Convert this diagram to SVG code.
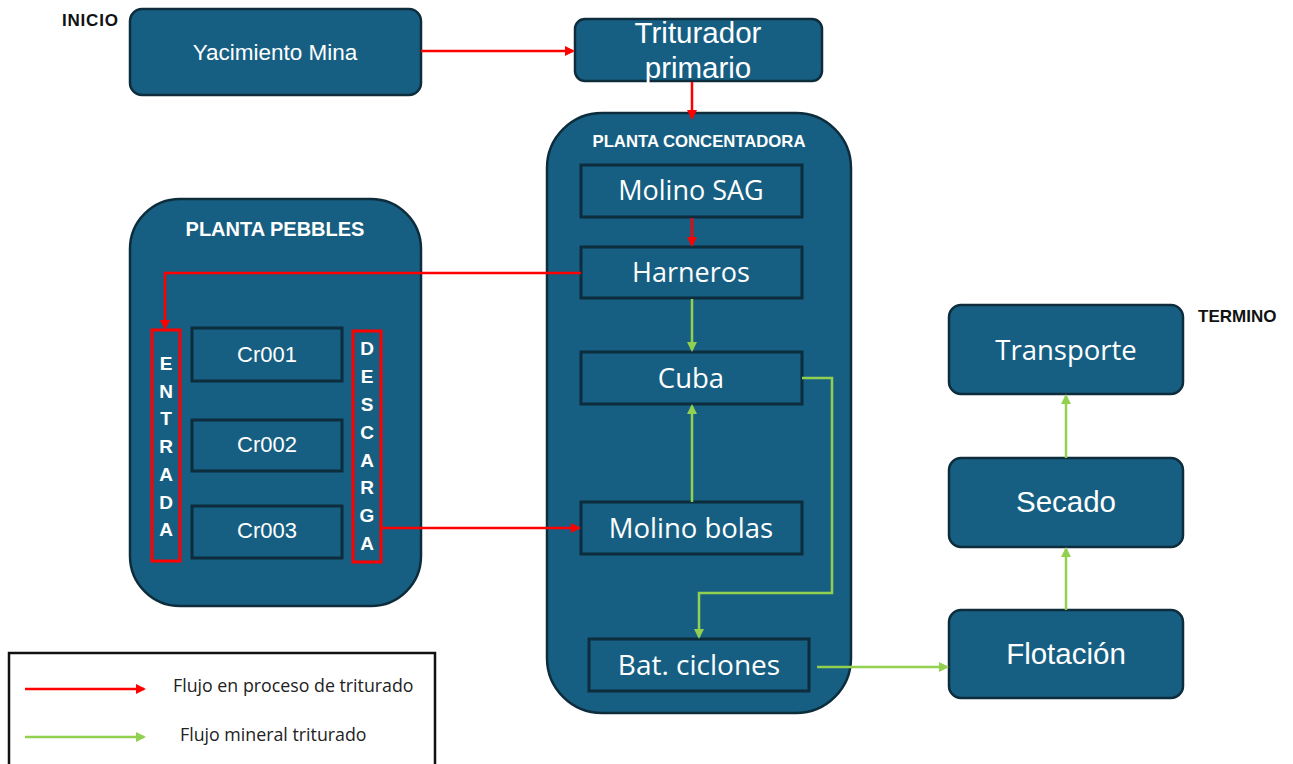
<svg xmlns="http://www.w3.org/2000/svg" width="1293" height="764" viewBox="0 0 1293 764">
  <defs>
    <marker id="ah-red" markerWidth="10" markerHeight="10" refX="8" refY="5" orient="auto" markerUnits="userSpaceOnUse">
      <path d="M0,0 L10,5 L0,10 Z" fill="#ff0000"/>
    </marker>
    <marker id="ah-green" markerWidth="10" markerHeight="10" refX="8" refY="5" orient="auto" markerUnits="userSpaceOnUse">
      <path d="M0,0 L10,5 L0,10 Z" fill="#92d050"/>
    </marker>
  </defs>
  <style>
    .box { fill: #175f82; stroke: #0d2c3c; stroke-width: 2.5; }
    .inner { fill: #175f82; stroke: #0d2c3c; stroke-width: 3; }
    .redframe { fill: none; stroke: #ff0000; stroke-width: 3; }
    .t-arial { font-family: "Liberation Sans", Arial, sans-serif; fill: #ffffff; text-anchor: middle; }
    .t-apt { font-family: "Open Sans", "Liberation Sans", sans-serif; fill: #ffffff; text-anchor: middle; }
    .t-head { font-family: "Liberation Sans", Arial, sans-serif; font-weight: bold; fill: #ffffff; text-anchor: middle; }
    .t-letter { font-family: "Liberation Sans", Arial, sans-serif; font-weight: bold; fill: #ffffff; text-anchor: middle; font-size: 19px; }
    .t-mark { font-family: "Liberation Sans", Arial, sans-serif; font-weight: bold; fill: #111111; font-size: 17px; }
    .t-legend { font-family: "Open Sans", "Liberation Sans", sans-serif; fill: #222222; font-size: 17.8px; }
    .red { fill: none; stroke: #ff0000; stroke-width: 2.5; }
    .green { fill: none; stroke: #92d050; stroke-width: 2.5; }
  </style>

  <rect width="1293" height="764" fill="#ffffff"/>

  <!-- start / end marks -->
  <text class="t-mark" x="62" y="26" letter-spacing="0.8">INICIO</text>
  <text class="t-mark" x="1198" y="322" font-size="18.5">TERMINO</text>

  <!-- container groups -->
  <g id="planta-pebbles">
    <rect class="box" x="130" y="199" width="291" height="407" rx="50"/>
    <text class="t-head" x="275" y="236" font-size="20">PLANTA PEBBLES</text>
  </g>
  <g id="planta-concentradora">
    <rect class="box" x="547" y="113" width="304" height="600" rx="55"/>
    <text class="t-head" x="699" y="147" font-size="16.7">PLANTA CONCENTADORA</text>
  </g>

  <!-- top row -->
  <g id="yacimiento-mina">
    <rect class="box" x="130" y="9" width="291" height="86" rx="12"/>
    <text class="t-arial" x="275" y="60" font-size="22.5">Yacimiento Mina</text>
  </g>
  <g id="triturador-primario">
    <rect class="box" x="575" y="19" width="247" height="62" rx="10"/>
    <text class="t-arial" x="698" y="43" font-size="29.5">Triturador</text>
    <text class="t-arial" x="698" y="78" font-size="29.5">primario</text>
  </g>

  <!-- concentrator stages -->
  <g id="molino-sag">
    <rect class="inner" x="581" y="165" width="221" height="52"/>
    <text class="t-apt" x="691" y="200" font-size="27">Molino SAG</text>
  </g>
  <g id="harneros">
    <rect class="inner" x="581" y="247" width="221" height="51"/>
    <text class="t-apt" x="691" y="282" font-size="27">Harneros</text>
  </g>
  <g id="cuba">
    <rect class="inner" x="581" y="352" width="221" height="52"/>
    <text class="t-apt" x="691" y="388" font-size="27.5">Cuba</text>
  </g>
  <g id="molino-bolas">
    <rect class="inner" x="581" y="502" width="221" height="52"/>
    <text class="t-apt" x="691" y="538" font-size="27.5">Molino bolas</text>
  </g>
  <g id="bat-ciclones">
    <rect class="inner" x="589" y="639" width="220" height="52"/>
    <text class="t-apt" x="699" y="675" font-size="28">Bat. ciclones</text>
  </g>

  <!-- pebbles crushers -->
  <g id="cr001">
    <rect class="inner" x="192" y="328" width="150" height="53"/>
    <text class="t-arial" x="267" y="362" font-size="22">Cr001</text>
  </g>
  <g id="cr002">
    <rect class="inner" x="192" y="420" width="150" height="51"/>
    <text class="t-arial" x="267" y="452" font-size="22">Cr002</text>
  </g>
  <g id="cr003">
    <rect class="inner" x="192" y="506" width="150" height="52"/>
    <text class="t-arial" x="267" y="538" font-size="22">Cr003</text>
  </g>

  <g id="entrada">
    <rect class="redframe" x="152" y="330" width="28" height="231"/>
    <text class="t-letter" x="166" y="370">E</text>
    <text class="t-letter" x="166" y="398">N</text>
    <text class="t-letter" x="166" y="425">T</text>
    <text class="t-letter" x="166" y="453">R</text>
    <text class="t-letter" x="166" y="481">A</text>
    <text class="t-letter" x="166" y="509">D</text>
    <text class="t-letter" x="166" y="536">A</text>
  </g>
  <g id="descarga">
    <rect class="redframe" x="353" y="331" width="28" height="231"/>
    <text class="t-letter" x="367" y="355">D</text>
    <text class="t-letter" x="367" y="383">E</text>
    <text class="t-letter" x="367" y="411">S</text>
    <text class="t-letter" x="367" y="439">C</text>
    <text class="t-letter" x="367" y="467">A</text>
    <text class="t-letter" x="367" y="494">R</text>
    <text class="t-letter" x="367" y="522">G</text>
    <text class="t-letter" x="367" y="550">A</text>
  </g>

  <!-- final stages -->
  <g id="transporte">
    <rect class="box" x="949" y="305" width="234" height="89" rx="12"/>
    <text class="t-apt" x="1066" y="360" font-size="27.5">Transporte</text>
  </g>
  <g id="secado">
    <rect class="box" x="949" y="458" width="234" height="89" rx="12"/>
    <text class="t-arial" x="1066" y="512" font-size="29.5">Secado</text>
  </g>
  <g id="flotacion">
    <rect class="box" x="949" y="610" width="234" height="88" rx="12"/>
    <text class="t-arial" x="1066" y="664" font-size="29.5">Flotación</text>
  </g>

  <!-- connectors -->
  <g id="connectors">
    <path class="red" d="M421,51 H573" marker-end="url(#ah-red)"/>
    <path class="red" d="M692,82 V118" marker-end="url(#ah-red)"/>
    <path class="red" d="M692,218 V245" marker-end="url(#ah-red)"/>
    <path class="red" d="M581,273 H165 V328" marker-end="url(#ah-red)"/>
    <path class="red" d="M382,528 H579" marker-end="url(#ah-red)"/>
    <path class="green" d="M692,299 V350" marker-end="url(#ah-green)"/>
    <path class="green" d="M692,502 V406" marker-end="url(#ah-green)"/>
    <path class="green" d="M802,378 H832 V593 H699 V637" marker-end="url(#ah-green)"/>
    <path class="green" d="M817,667 H947" marker-end="url(#ah-green)"/>
    <path class="green" d="M1066,610 V549" marker-end="url(#ah-green)"/>
    <path class="green" d="M1066,458 V396" marker-end="url(#ah-green)"/>
  </g>

  <!-- legend -->
  <g id="legend">
    <rect x="9" y="653" width="426" height="120" fill="#ffffff" stroke="#111111" stroke-width="2.5"/>
    <path class="red" d="M25,689 H144" marker-end="url(#ah-red)"/>
    <text class="t-legend" x="173" y="692">Flujo en proceso de triturado</text>
    <path class="green" d="M25,737 H144" marker-end="url(#ah-green)"/>
    <text class="t-legend" x="180" y="741">Flujo mineral triturado</text>
  </g>
</svg>
